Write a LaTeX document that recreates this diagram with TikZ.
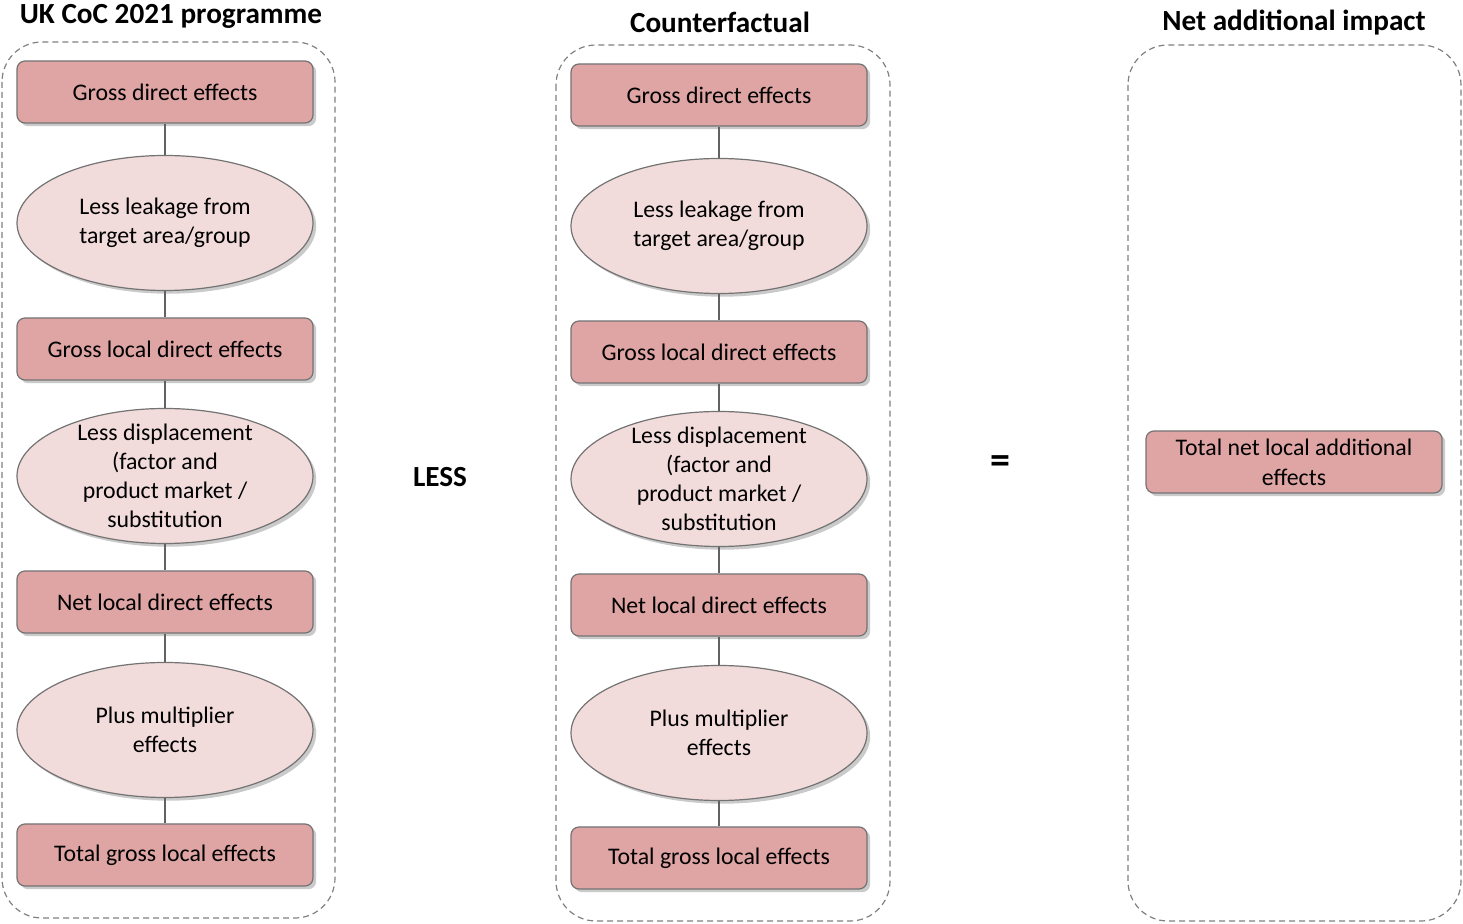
\documentclass[tikz,border=0pt]{standalone}
\usepackage{fontspec}
\setmainfont{Carlito}
\usepackage{xcolor}
\usepackage{tikz}
\usetikzlibrary{shapes.geometric,shadows}
\definecolor{boxred}{RGB}{222,165,164}
\definecolor{ovalpink}{RGB}{242,220,219}
\definecolor{edgegrey}{RGB}{115,115,115}
\definecolor{dashgrey}{RGB}{128,128,128}
\tikzstyle{effect} = [rectangle, rounded corners=4pt, draw=edgegrey, line width=0.6pt, fill=boxred, minimum width=148pt, minimum height=31pt, align=center, font=\fontsize{11.9}{15}\selectfont, drop shadow={shadow xshift=1.6pt, shadow yshift=-1.6pt, opacity=0.35, fill=black!60}]
\tikzstyle{adjust} = [ellipse, draw=edgegrey, line width=0.6pt, fill=ovalpink, minimum width=148pt, minimum height=67.5pt, inner xsep=0pt, inner ysep=-6pt, align=center, font=\fontsize{11.9}{14.5}\selectfont, drop shadow={shadow xshift=1.6pt, shadow yshift=-1.6pt, opacity=0.35, fill=black!60}]
\tikzstyle{link} = [edgegrey!85!black, line width=0.8pt]
\tikzstyle{frame} = [dashgrey, dash pattern=on 3pt off 2pt, line width=0.6pt, rounded corners=20pt]
\tikzstyle{heading} = [font=\fontsize{14.6}{17}\bfseries\selectfont]

\begin{document}
\begin{tikzpicture}[x=0.5pt,y=-0.5pt]
\useasboundingbox (0,0) rectangle (1463,924);

% headings
\node[heading] (progtitle) at (171,16) {UK CoC 2021 programme};
\node[heading] (cftitle) at (720,22) {Counterfactual};
\node[heading] (nettitle) at (1294,23) {Net additional impact};
\node[heading] (less) at (440,477) {LESS};
\node[heading, font=\fontsize{20}{22}\bfseries\selectfont] (equals) at (1000,465) {=};

% dashed frames
\draw[frame] (2,42) rectangle (335,918);
\draw[frame] (556,45) rectangle (890,921);
\draw[frame] (1128,45) rectangle (1461,921);

% programme column
\node[effect] (p1) at (165,92) {Gross direct effects};
\node[adjust] (p2) at (165,223) {Less leakage from\\target area/group};
\node[effect] (p3) at (165,349) {Gross local direct effects};
\node[adjust] (p4) at (165,476) {Less displacement\\(factor and\\product market /\\substitution};
\node[effect] (p5) at (165,602) {Net local direct effects};
\node[adjust] (p6) at (165,730) {Plus multiplier\\effects};
\node[effect] (p7) at (165,855) {Total gross local effects};

% counterfactual column
\node[effect] (c1) at (719,95) {Gross direct effects};
\node[adjust] (c2) at (719,226) {Less leakage from\\target area/group};
\node[effect] (c3) at (719,352) {Gross local direct effects};
\node[adjust] (c4) at (719,479) {Less displacement\\(factor and\\product market /\\substitution};
\node[effect] (c5) at (719,605) {Net local direct effects};
\node[adjust] (c6) at (719,733) {Plus multiplier\\effects};
\node[effect] (c7) at (719,858) {Total gross local effects};

% net impact
\node[effect] (n1) at (1294,462) {Total net local additional\\effects};

\foreach \a/\b in {1/2,2/3,3/4,4/5,5/6,6/7}{
  \draw[link] (p\a) -- (p\b);
  \draw[link] (c\a) -- (c\b);
}
\end{tikzpicture}
\end{document}
